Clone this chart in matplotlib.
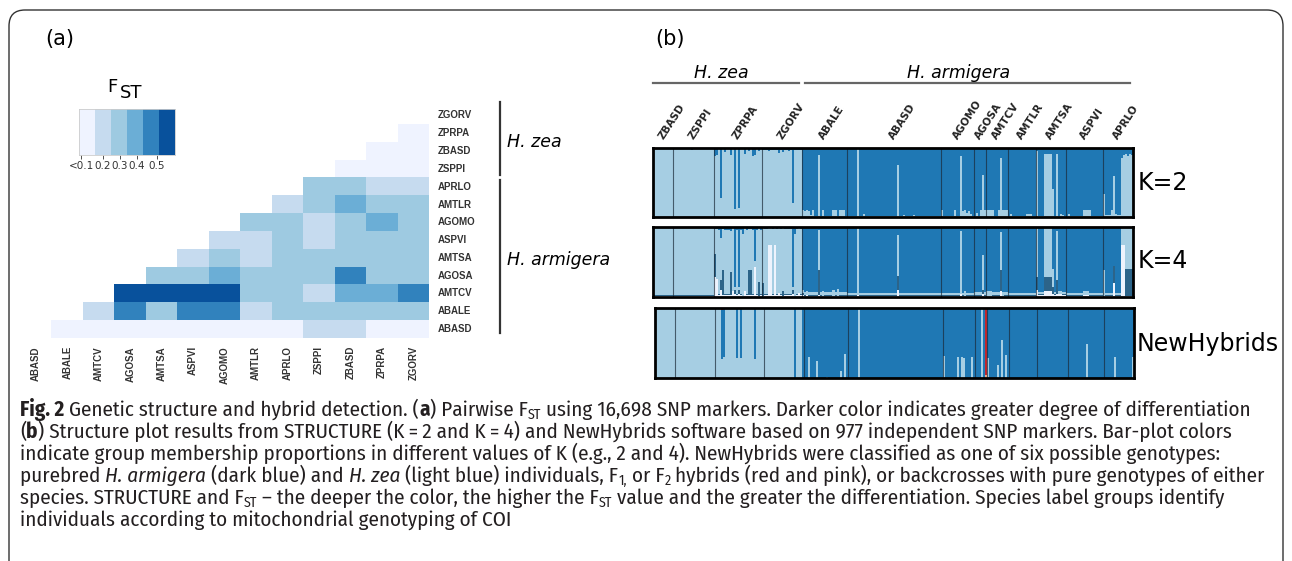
import numpy as np
import matplotlib.pyplot as plt
from matplotlib.colors import ListedColormap, BoundaryNorm
from matplotlib.patches import FancyBboxPatch
from matplotlib.lines import Line2D
from matplotlib.transforms import IdentityTransform
from matplotlib.textpath import TextPath
from matplotlib.font_manager import FontProperties
from matplotlib import font_manager

W, H = 1292, 561

# ---------------- data: (a) pairwise Fst ----------------
fst_pops = ['ABASD', 'ABALE', 'AMTCV', 'AGOSA', 'AMTSA', 'ASPVI', 'AGOMO',
            'AMTLR', 'APRLO', 'ZSPPI', 'ZBASD', 'ZPRPA', 'ZGORV']
# row i holds Fst of fst_pops[i] against fst_pops[i+1:]
fst_rows = [
    [0.05, 0.05, 0.05, 0.05, 0.05, 0.05, 0.05, 0.05, 0.15, 0.15, 0.05, 0.05],
    [0.15, 0.45, 0.25, 0.45, 0.45, 0.15, 0.25, 0.25, 0.25, 0.25, 0.25],
    [0.55, 0.55, 0.55, 0.55, 0.25, 0.25, 0.15, 0.35, 0.35, 0.45],
    [0.25, 0.25, 0.35, 0.25, 0.25, 0.25, 0.45, 0.25, 0.25],
    [0.15, 0.25, 0.15, 0.25, 0.25, 0.25, 0.25, 0.25],
    [0.15, 0.15, 0.25, 0.15, 0.25, 0.25, 0.25],
    [0.25, 0.25, 0.15, 0.25, 0.35, 0.25],
    [0.15, 0.25, 0.35, 0.25, 0.25],
    [0.25, 0.25, 0.15, 0.15],
    [0.05, 0.05, 0.05],
    [0.05, 0.05],
    [0.05],
    [],
]
fst_bins = [0.0, 0.1, 0.2, 0.3, 0.4, 0.5, 0.6]
fst_ticklabels = ['<0.1', '0.2', '0.3', '0.4', '0.5']
fst_colors = ['#eff3ff', '#c6dbef', '#9ecae1', '#6baed6', '#3182bd', '#08519c']

# ---------------- data: (b) structure plots ----------------
pops = ['ZBASD', 'ZSPPI', 'ZPRPA', 'ZGORV', 'ABALE', 'ABASD', 'AGOMO',
        'AGOSA', 'AMTCV', 'AMTLR', 'AMTSA', 'ASPVI', 'APRLO']
pop_n = [10, 20, 24, 20, 22, 47, 16, 6, 11, 14, 15, 18, 15]

# K=2 : H. zea-like (light) membership per individual
k2_base = {'ZBASD': 0.99, 'ZSPPI': 0.99, 'ZPRPA': 0.98, 'ZGORV': 0.97,
           'ABALE': 0.02, 'ABASD': 0.01, 'AGOMO': 0.01, 'AGOSA': 0.02,
           'AMTCV': 0.02, 'AMTLR': 0.01, 'AMTSA': 0.02, 'ASPVI': 0.01,
           'APRLO': 0.03}
k2_exc = {
    'ZSPPI': [(9, 0.97)],
    'ZPRPA': [(0, 0.88), (1, 0.9), (3, 0.28), (5, 0.94), (8, 0.9), (10, 0.11),
              (12, 0.13), (15, 0.92), (17, 0.95), (19, 0.88), (20, 0.9), (22, 0.95)],
    'ZGORV': [(3, 0.95), (8, 0.93), (10, 0.94), (13, 0.96), (15, 0.2)],
    'ABALE': [(0, 0.1), (1, 0.08), (2, 0.1), (3, 0.09), (4, 0.03), (5, 0.1),
              (8, 0.9), (10, 0.1), (15, 0.1), (16, 0.1), (18, 0.1), (19, 0.1),
              (20, 0.1)],
    'ABASD': [(5, 0.98), (8, 0.04), (25, 0.76), (28, 0.03), (33, 0.03), (36, 0.02)],
    'AGOMO': [(0, 0.1), (6, 0.1), (9, 0.88), (10, 0.08), (11, 0.1), (12, 0.06),
              (13, 0.08), (14, 0.04)],
    'AGOSA': [(1, 0.06), (3, 0.1), (4, 0.61), (5, 0.1)],
    'AMTCV': [(0, 0.1), (1, 0.1), (2, 0.1), (3, 0.1), (6, 0.1), (7, 0.85),
              (8, 0.1), (9, 0.1), (10, 0.1)],
    'AMTLR': [(1, 0.05), (9, 0.05), (10, 0.05), (11, 0.05)],
    'AMTSA': [(0, 0.95), (4, 0.92), (5, 0.92), (6, 0.92), (7, 0.92), (8, 0.4),
              (10, 0.92), (12, 0.05), (13, 0.03)],
    'ASPVI': [(1, 0.04), (8, 0.1), (9, 0.1), (10, 0.1), (11, 0.1), (14, 0.02)],
    'APRLO': [(0, 0.33), (4, 0.1), (5, 0.6), (6, 0.05), (9, 0.85), (10, 0.9),
              (11, 0.92), (12, 0.88), (13, 0.92), (14, 0.9)],
}

# K=4 : (white, slate, light) memberships, dark blue is the remainder
k4_base = {'ZBASD': (0.02, 0.01, 0.95), 'ZSPPI': (0.02, 0.01, 0.95),
           'ZPRPA': (0.03, 0.01, 0.92), 'ZGORV': (0.03, 0.01, 0.93),
           'ABALE': (0.02, 0.01, 0.04), 'ABASD': (0.02, 0.01, 0.03),
           'AGOMO': (0.02, 0.01, 0.03), 'AGOSA': (0.02, 0.01, 0.04),
           'AMTCV': (0.02, 0.01, 0.04), 'AMTLR': (0.02, 0.01, 0.03),
           'AMTSA': (0.03, 0.01, 0.03), 'ASPVI': (0.02, 0.01, 0.03),
           'APRLO': (0.02, 0.01, 0.03)}
k4_exc = {
    'ZPRPA': [(0, 0.28, 0.33, 0.36), (1, 0.26, 0.0, 0.71), (3, 0.1, 0.15, 0.6),
              (4, 0.03, 0.36, 0.58), (8, 0.03, 0.33, 0.59), (9, 0.08, 0.0, 0.9),
              (10, 0.05, 0.05, 0.05), (12, 0.05, 0.05, 0.05), (14, 0.02, 0.0, 0.88),
              (15, 0.08, 0.0, 0.9), (17, 0.03, 0.36, 0.58), (18, 0.03, 0.36, 0.58),
              (20, 0.43, 0.0, 0.09), (22, 0.02, 0.2, 0.76)],
    'ZGORV': [(0, 0.02, 0.18, 0.78), (3, 0.75, 0.0, 0.23), (4, 0.75, 0.0, 0.23),
              (6, 0.75, 0.0, 0.23), (8, 0.06, 0.0, 0.92), (10, 0.02, 0.06, 0.9),
              (15, 0.05, 0.05, 0.05), (16, 0.02, 0.0, 0.88), (18, 0.06, 0.0, 0.92)],
    'ABALE': [(0, 0.03, 0.03, 0.04), (2, 0.03, 0.0, 0.06), (8, 0.03, 0.36, 0.57),
              (10, 0.02, 0.0, 0.07), (15, 0.02, 0.0, 0.08), (17, 0.02, 0.0, 0.09)],
    'ABASD': [(5, 0.03, 0.0, 0.95), (25, 0.1, 0.2, 0.59)],
    'AGOMO': [(9, 0.05, 0.0, 0.89), (11, 0.02, 0.0, 0.06)],
    'AGOSA': [(4, 0.05, 0.05, 0.5)],
    'AMTCV': [(0, 0.02, 0.0, 0.07), (1, 0.02, 0.0, 0.07), (2, 0.02, 0.0, 0.07),
              (7, 0.08, 0.3, 0.55), (8, 0.02, 0.0, 0.05)],
    'AMTSA': [(0, 0.1, 0.18, 0.7), (4, 0.08, 0.2, 0.7), (5, 0.08, 0.2, 0.7),
              (6, 0.08, 0.2, 0.7), (7, 0.08, 0.2, 0.7), (8, 0.05, 0.1, 0.25),
              (10, 0.05, 0.2, 0.7), (11, 0.05, 0.0, 0.03), (12, 0.05, 0.0, 0.03)],
    'ASPVI': [(8, 0.03, 0.0, 0.05), (9, 0.03, 0.0, 0.05), (10, 0.03, 0.0, 0.05)],
    'APRLO': [(0, 0.02, 0.0, 0.37), (5, 0.2, 0.24, 0.0), (9, 0.75, 0.0, 0.23),
              (10, 0.75, 0.0, 0.23), (11, 0.02, 0.38, 0.58), (12, 0.02, 0.38, 0.58),
              (13, 0.02, 0.38, 0.58), (14, 0.02, 0.38, 0.58)],
}

# NewHybrids : pure H. zea (light) probability, pure H. armigera is the remainder
nh_base = {'ZBASD': 1.0, 'ZSPPI': 1.0, 'ZPRPA': 1.0, 'ZGORV': 1.0,
           'ABALE': 0.0, 'ABASD': 0.0, 'AGOMO': 0.0, 'AGOSA': 0.0,
           'AMTCV': 0.0, 'AMTLR': 0.0, 'AMTSA': 0.0, 'ASPVI': 0.0,
           'APRLO': 0.0}
nh_exc = {
    'ZPRPA': [(3, 0.27), (4, 0.3), (10, 0.28), (12, 0.29), (19, 0.27)],
    'ZGORV': [(15, 0.0), (19, 0.0)],
    'ABALE': [(2, 0.3), (6, 0.25), (11, 0.02), (18, 0.1), (20, 0.35)],
    'ABASD': [(5, 1.0)],
    'AGOMO': [(0, 0.32), (7, 0.3), (9, 0.3), (10, 0.28), (14, 0.3)],
    'AGOSA': [(3, 1.0)],
    'AMTCV': [(0, 0.28), (5, 0.18), (7, 0.55), (9, 0.33)],
    'ASPVI': [(9, 0.48)],
    'APRLO': [(5, 0.3), (14, 0.3)],
}
# F1 (red) and F2 (pink) probabilities
nh_f1 = {
    'ZPRPA': [(3, 0.03), (10, 0.02), (12, 0.02), (19, 0.02)],
    'ZGORV': [(6, 0.02)],
    'ABALE': [(2, 0.02), (5, 0.02), (7, 0.02), (9, 0.03), (12, 0.02), (14, 0.02),
              (17, 0.02), (20, 0.02)],
    'ABASD': [(18, 0.02), (30, 0.02), (40, 0.02)],
    'AGOMO': [(3, 0.02), (5, 0.02), (9, 0.02), (11, 0.02)],
    'AGOSA': [(5, 0.96)],
    'AMTCV': [(6, 0.02), (8, 0.02)],
    'AMTSA': [(4, 0.02), (8, 0.02)],
    'ASPVI': [(13, 0.02)],
    'APRLO': [(1, 0.02), (8, 0.02), (11, 0.02), (13, 0.02)],
}
nh_f2 = {'AGOSA': [(5, 0.04)]}

C_LIGHT, C_DARK = '#a6cee3', '#1f78b4'
C_SLATE, C_WHITE = '#2c6489', '#eef3fd'
C_F1, C_F2 = '#c1272d', '#f4a582'


def px_box(x0, y0, x1, y1):
    return [x0 / W, 1 - y1 / H, (x1 - x0) / W, (y1 - y0) / H]


def fx(x):
    return x / W


def fy(y):
    return 1 - y / H


def per_individual(base, exc, width=1):
    out = []
    for p, n in zip(pops, pop_n):
        b = base[p] if width > 1 else [base[p]]
        arr = np.tile(np.array(b, dtype=float), (n, 1))
        for e in exc.get(p, []):
            arr[e[0]] = e[1:]
        out.append(arr)
    return np.vstack(out)


def sparse(d):
    out = []
    for p, n in zip(pops, pop_n):
        arr = np.zeros(n)
        for i, v in d.get(p, []):
            arr[i] = v
        out.append(arr)
    return np.concatenate(out)


fig = plt.figure(figsize=(W / 100, H / 100), dpi=100)

# rounded frame around the figure
fig.add_artist(FancyBboxPatch((9, -40), 1274, H - 10 + 40,
                              boxstyle='round,pad=0,rounding_size=16',
                              transform=IdentityTransform(), fc='none',
                              ec='#333333', lw=1.0))

# ---------------- (a) heatmap ----------------
nrow = len(fst_pops)
M = np.full((nrow, nrow), np.nan)
for i, row in enumerate(fst_rows):
    for k, v in enumerate(row):
        M[nrow - 1 - i, i + 1 + k] = v

cmap = ListedColormap(fst_colors)
norm = BoundaryNorm(fst_bins, cmap.N)

ax = fig.add_axes(px_box(20.2, 106.6, 429, 338))
ax.imshow(M, cmap=cmap, norm=norm, aspect='auto', interpolation='nearest')
ax.set_xlim(-0.5, nrow - 0.5)
ax.set_ylim(nrow - 0.5, -0.5)
ax.axis('off')
for r in range(nrow):
    ax.text(12.78, r, fst_pops[nrow - 1 - r], ha='left', va='center',
            fontsize=7, family='Liberation Sans', fontweight='bold', color='#333333')
for c in range(nrow):
    ax.text(c, 12.95, fst_pops[c], ha='center', va='top', rotation=90,
            fontsize=7, family='Liberation Sans', fontweight='bold', color='#333333')

# legend bar
axc = fig.add_axes(px_box(79, 109, 175, 155))
axc.imshow([np.arange(len(fst_colors))], cmap=cmap, aspect='auto',
           interpolation='nearest')
axc.set_yticks([])
axc.set_xticks([-0.35, 1.0, 2.05, 3.1, 4.35])
axc.set_xticklabels(fst_ticklabels, fontsize=7.5)
axc.tick_params(axis='x', length=3, width=0.6, pad=1, colors='#333333')
for s in axc.spines.values():
    s.set_color('#cccccc')
    s.set_linewidth(0.6)
fig.text(fx(107), fy(92), 'F', fontsize=13, ha='left', va='baseline')
fig.text(fx(119.5), fy(98), 'ST', fontsize=13, ha='left', va='baseline')

# species brackets
fig.add_artist(Line2D([fx(500)] * 2, [fy(101.5), fy(175)], color='#333333', lw=1.6))
fig.add_artist(Line2D([fx(500)] * 2, [fy(180), fy(333)], color='#333333', lw=1.6))
fig.text(fx(507), fy(142), 'H. zea', style='italic', fontsize=12.5, va='center')
fig.text(fx(507), fy(260), 'H. armigera', style='italic', fontsize=12.5, va='center')

fig.text(fx(45), fy(39), '(a)', fontsize=15, va='center')
fig.text(fx(655), fy(39), '(b)', fontsize=15, va='center')

# ---------------- (b) structure plots ----------------
cum = np.concatenate([[0], np.cumsum(pop_n)])
ntot = cum[-1]
xs = np.arange(ntot)


def stacked(ax, layers, colors):
    bottom = np.zeros(ntot)
    for vals, c in zip(layers, colors):
        ax.bar(xs, vals, bottom=bottom, width=1.0, align='edge', color=c,
               linewidth=0)
        bottom = bottom + vals


def frame(ax, sep_color):
    ax.set_xlim(0, ntot)
    ax.set_ylim(0, 1)
    ax.set_xticks([])
    ax.set_yticks([])
    for s in ax.spines.values():
        s.set_linewidth(2.0)
        s.set_color('black')
    ax.vlines(cum[1:-1], 0, 1, color=sep_color, lw=0.8, alpha=0.7)


k2 = per_individual(k2_base, k2_exc)[:, 0]
ax2 = fig.add_axes(px_box(653, 148, 1133, 217))
stacked(ax2, [k2, 1 - k2], [C_LIGHT, C_DARK])
frame(ax2, '#1b2a38')

k4 = per_individual(k4_base, k4_exc, width=3)
k4_dark = 1 - k4.sum(axis=1)
ax4 = fig.add_axes(px_box(653, 227, 1133, 297))
stacked(ax4, [k4[:, 0], k4[:, 1], k4[:, 2], k4_dark],
        [C_WHITE, C_SLATE, C_LIGHT, C_DARK])
frame(ax4, '#1b2a38')

nh = per_individual(nh_base, nh_exc)[:, 0]
f1 = sparse(nh_f1)
f2 = sparse(nh_f2)
nh_light = np.where(f1 > 0.5, 0, nh)
nh_dark = np.clip(1 - nh_light - f1 - f2, 0, 1)
axn = fig.add_axes(px_box(655, 308, 1134, 378))
stacked(axn, [f2, nh_light, nh_dark, f1], [C_F2, C_LIGHT, C_DARK, C_F1])
frame(axn, '#1b2a38')

# population labels
centers = (cum[:-1] + cum[1:]) / 2
for p, c in zip(pops, centers):
    ax2.text(c, 1.12, p, transform=ax2.get_xaxis_transform(), rotation=57,
             rotation_mode='anchor', ha='left', va='baseline', fontsize=7.5,
             fontweight='bold', color='#222222')

fig.add_artist(Line2D([fx(653), fx(799)], [fy(82.5)] * 2, color='#666666', lw=1.6))
fig.add_artist(Line2D([fx(805), fx(1130)], [fy(82.5)] * 2, color='#666666', lw=1.6))
fig.text(fx(721), fy(73), 'H. zea', style='italic', fontsize=12.5, ha='center', va='center')
fig.text(fx(959), fy(73), 'H. armigera', style='italic', fontsize=12.5, ha='center', va='center')

fig.text(fx(1138), fy(183), 'K=2', fontsize=17, va='center')
fig.text(fx(1138), fy(261), 'K=4', fontsize=17, va='center')
fig.text(fx(1137), fy(344), 'NewHybrids', fontsize=17, va='center')

# ---------------- caption ----------------
caption = [
    [("Fig. 2", 'b'), (" Genetic structure and hybrid detection. (", 'n'), ("a", 'b'),
     (") Pairwise F", 'n'), ("ST", 's'),
     (" using 16,698 SNP markers. Darker color indicates greater degree of differentiation", 'n')],
    [("(", 'n'), ("b", 'b'),
     (") Structure plot results from STRUCTURE (K\u2009=\u20092 and K\u2009=\u20094) and NewHybrids "
      "software based on 977 independent SNP markers. Bar-plot colors", 'n')],
    [("indicate group membership proportions in different values of K (e.g., 2 and 4). "
      "NewHybrids were classified as one of six possible genotypes:", 'n')],
    [("purebred ", 'n'), ("H. armigera", 'i'), (" (dark blue) and ", 'n'), ("H. zea", 'i'),
     (" (light blue) individuals, F", 'n'), ("1,", 's'), (" or F", 'n'), ("2", 's'),
     (" hybrids (red and pink), or backcrosses with pure genotypes of either", 'n')],
    [("species. STRUCTURE and F", 'n'), ("ST", 's'),
     (" \u2013 the deeper the color, the higher the F", 'n'), ("ST", 's'),
     (" value and the greater the differentiation. Species label groups identify", 'n')],
    [("individuals according to mitochondrial genotyping of COI", 'n')],
]
cap_y = [411, 433, 455, 477, 499, 521]
cap_width = 1238      # px width of the first caption line
cap_height = 14.2     # px height of a capital letter

renderer = fig.canvas.get_renderer()
cap_font = 'Liberation Sans'


def run_kw(style, size):
    kw = dict(fontsize=size, family=[cap_font, 'DejaVu Sans'], color='#231f20')
    if style == 'b':
        kw['fontweight'] = 'bold'
    if style == 'i':
        kw['style'] = 'italic'
    if style == 's':
        kw['fontsize'] = size * 0.66
    return kw


def width_of(txt, kw):
    t1 = fig.text(0, 0, 'x' + txt + 'x', **kw)
    t2 = fig.text(0, 0, 'xx', **kw)
    w = t1.get_window_extent(renderer).width - t2.get_window_extent(renderer).width
    t1.remove()
    t2.remove()
    return w


def line_width(runs, size):
    return sum(width_of(t, run_kw(s, size)) for t, s in runs)


# pick an installed condensed sans whose proportions suit the caption box
have = {f.name for f in font_manager.fontManager.ttflist}
best = None
for fam in ['Fira Sans Condensed', 'Sofia Sans Semi Condensed', 'Barlow Semi Condensed',
            'Encode Sans Semi Condensed', 'Asap Condensed', 'IBM Plex Sans Condensed',
            'Roboto Condensed', 'Open Sans Condensed']:
    if fam not in have:
        continue
    cap_font = fam
    s = 12.0 * cap_width / line_width(caption[0], 12.0)
    ratio = TextPath((0, 0), 'H', size=1.0, prop=FontProperties(family=fam)).get_extents().height
    err = abs(ratio * s * 100 / 72 - cap_height)
    if best is None or err < best[0]:
        best = (err, fam, s)
if best is None:
    cap_font = 'Liberation Sans'
    size = 12.0 * cap_width / line_width(caption[0], 12.0)
else:
    _, cap_font, size = best

for runs, y in zip(caption, cap_y):
    x = 20
    for txt, st in runs:
        kw = run_kw(st, size)
        yy = y + 5 + (3.0 if st == 's' else 0)
        fig.text(fx(x), fy(yy), txt, ha='left', va='baseline', **kw)
        x += width_of(txt, kw)

fig.savefig('out.png', dpi=100)
